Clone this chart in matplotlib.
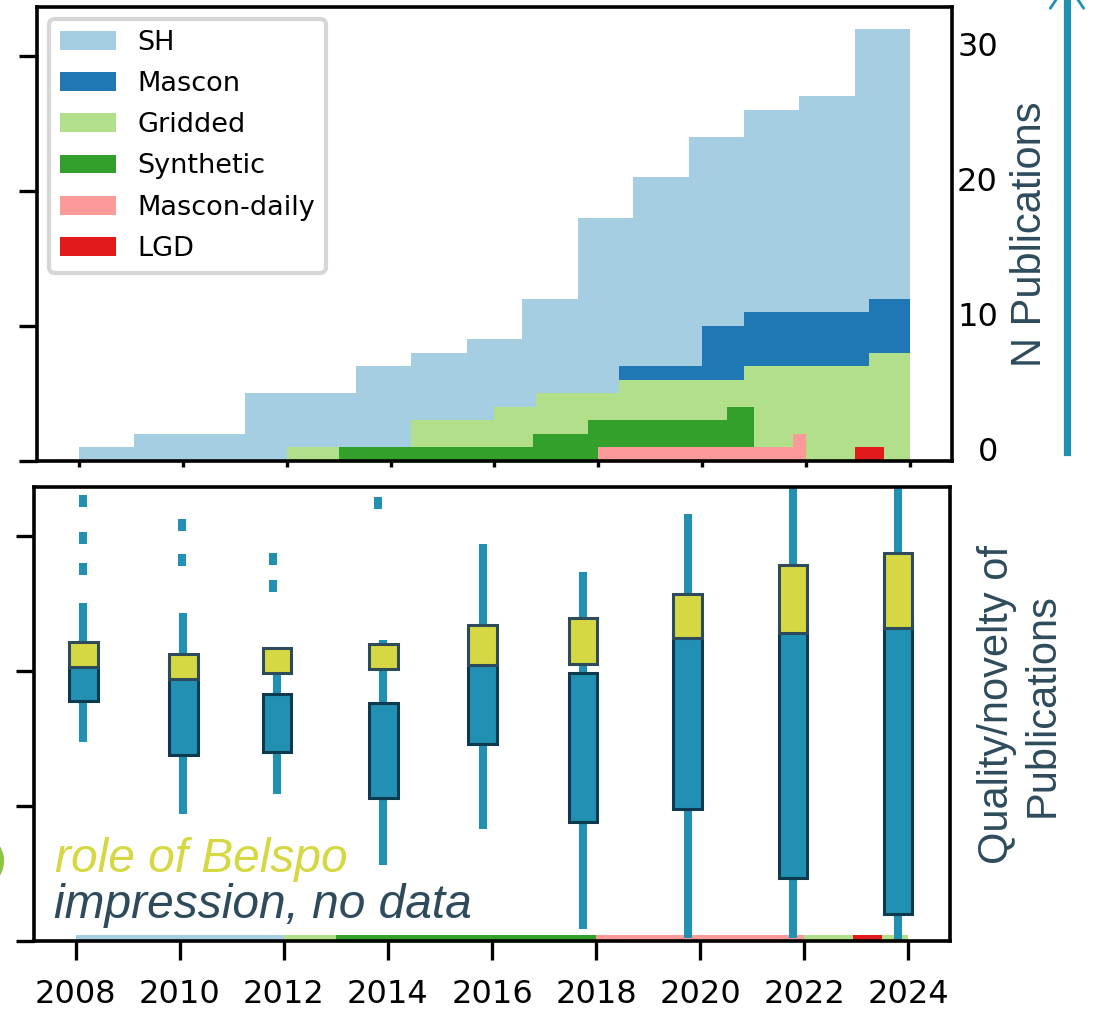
import numpy as np
import matplotlib.pyplot as plt
from matplotlib.patches import Circle, FancyArrowPatch
from matplotlib.lines import Line2D

# histogram counts, 15 equal bins between the first and last year of each category
categories = ["SH", "Mascon", "Gridded", "Synthetic", "Mascon-daily", "LGD"]
colors = ["#a6cee3", "#1f78b4", "#b2df8a", "#33a02c", "#fb9a99", "#e31a1c"]
year_ranges = [(2008, 2024), (2012, 2024), (2012, 2024), (2013, 2021), (2018, 2022), (2022.93, 2023.5)]
sh_counts = [1, 2, 2, 5, 5, 7, 8, 9, 12, 18, 21, 24, 26, 27, 32]
mascon_counts = [0, 0, 0, 0, 0, 0, 0, 0, 7, 7, 10, 11, 11, 11, 12]
gridded_counts = [1, 1, 1, 3, 3, 4, 5, 5, 6, 6, 6, 7, 7, 7, 8]
synthetic_counts = [1, 1, 1, 1, 1, 1, 1, 2, 2, 3, 3, 3, 3, 3, 4]
daily_counts = [1, 1, 1, 1, 1, 1, 1, 1, 1, 1, 1, 1, 1, 1, 2]
lgd_counts = [1, 1, 1, 1]
all_counts = [sh_counts, mascon_counts, gridded_counts, synthetic_counts, daily_counts, lgd_counts]

# "impression" boxes (quality / novelty)
box_x = [2008.15, 2010.07, 2011.87, 2013.91, 2015.82, 2017.75, 2019.76, 2021.78, 2023.8]
whisk_lo = [14.7, 9.4, 10.9, 5.6, 8.3, 0.9, 0.25, 0.25, 0.0]
teal_lo = [17.8, 13.8, 14.0, 10.6, 14.6, 8.8, 9.75, 4.7, 2.0]
teal_hi = [20.25, 20.1, 18.3, 17.6, 20.45, 19.8, 22.6, 23.2, 23.75]
whisk_hi = [25.05, 24.25, 21.0, 22.3, 29.35, 27.3, 31.6, 34.0, 34.0]
belspo_lo = [20.25, 19.4, 19.8, 20.1, 20.45, 20.5, 22.4, 22.8, 23.2]
belspo_hi = [22.1, 21.25, 21.7, 22.0, 23.4, 23.9, 25.7, 27.8, 28.7]
flier_x = [2008.15, 2008.15, 2008.15, 2010.04, 2010.04, 2011.8, 2011.8, 2013.8]
flier_y = [32.6, 29.8, 27.5, 30.8, 28.2, 28.3, 26.3, 32.4]

years = [2008, 2010, 2012, 2014, 2016, 2018, 2020, 2022, 2024]
yticks = [0, 10, 20, 30]

teal = "#2190b2"
dark = "#0d3a4e"
yellow = "#d5d843"
slate = "#2e4b5c"
arial = ["Liberation Sans", "DejaVu Sans"]

fig = plt.figure(figsize=(10.94, 10.10), dpi=100)
ax1 = fig.add_axes([0.0338, 0.5436, 0.8364, 0.4495])
ax2 = fig.add_axes([0.0311, 0.0683, 0.8373, 0.4495])


def draw_hist(ax, cap=None, labels=True):
    for name, col, (a, b), cnt in zip(categories, colors, year_ranges, all_counts):
        edges = np.linspace(a, b, len(cnt) + 1)
        h = np.array(cnt, dtype=float)
        if cap is not None:
            h = np.minimum(h, cap)
        ax.bar(edges[:-1], h, width=np.diff(edges), align="edge", color=col,
               linewidth=0, label=name if labels else None, zorder=1)


draw_hist(ax1)
draw_hist(ax2, cap=0.45, labels=False)

for ax in (ax1, ax2):
    ax.set_xlim(2007.2, 2024.8)
    ax.set_ylim(0, 33.6)
    ax.set_xticks(years)
    ax.set_yticks(yticks)
    for s in ax.spines.values():
        s.set_linewidth(2.6)
    ax.tick_params(axis="y", left=True, right=False, length=13, width=2.4)

# top panel
ax1.tick_params(axis="x", labelbottom=False, length=4.5, width=2.4)
ax1.tick_params(axis="y", labelleft=False, labelright=True, labelsize=23, pad=20)
for lab in ax1.get_yticklabels():
    lab.set_ha("right")
    lab.set_va("baseline")
leg = ax1.legend(loc="upper left", fontsize=19.5, labelspacing=0.56, handlelength=2.05,
                 borderaxespad=0.45, fancybox=True)
leg.get_frame().set_linewidth(3)
leg.get_frame().set_edgecolor("#cccccc")

# bottom panel
ax2.tick_params(axis="y", labelleft=False)
ax2.tick_params(axis="x", length=14, width=2.4, labelsize=23, pad=13.5)
ax2.vlines(box_x, whisk_lo, teal_lo, color=teal, lw=5.8, zorder=2)
ax2.vlines(box_x, teal_hi, whisk_hi, color=teal, lw=5.8, zorder=2)
rect = [(-4, -5.5), (4, -5.5), (4, 5.5), (-4, 5.5)]
ax2.plot(flier_x, flier_y, ls="none", marker=rect, ms=8, color=teal, mew=0, zorder=2)
ax2.bar(box_x, np.subtract(teal_hi, teal_lo), bottom=teal_lo, width=0.55, color=teal,
        edgecolor=dark, linewidth=2.2, zorder=3)
ax2.bar(box_x, np.subtract(belspo_hi, belspo_lo), bottom=belspo_lo, width=0.55, color=yellow,
        edgecolor=slate, linewidth=2.2, zorder=4)
ax2.text(0.023, 0.152, "role of Belspo", transform=ax2.transAxes, family=arial,
         style="italic", size=34.5, color=yellow, va="baseline", zorder=5)
ax2.text(0.022, 0.05, "impression, no data", transform=ax2.transAxes, family=arial,
         style="italic", size=34.5, color=slate, va="baseline", zorder=5)

# right-hand labels
fig.text(1030 / 1094, 1 - 234 / 1010, "N Publications", rotation=90, ha="center",
         va="center", family=arial, size=30, color=slate)
fig.text(1020 / 1094, 1 - 705 / 1010, "Quality/novelty of\nPublications", rotation=90,
         ha="center", va="center", multialignment="center", family=arial, size=30,
         color=slate)

# decorations cut off at the edges of the slide
fig.add_artist(Line2D([1067 / 1094, 1067 / 1094], [1 - 452 / 1010, 1.0],
                      transform=fig.transFigure, color=teal, lw=5.2))
fig.add_artist(FancyArrowPatch((1067, 1010 - 30), (1067, 1010 + 22), transform=None,
                               arrowstyle="->,head_length=18,head_width=12",
                               mutation_scale=1, color=teal, lw=2))
fig.add_artist(Circle((-24, 1010 - 861), 26, transform=None, fill=False,
                      edgecolor="#8dc641", lw=3))

fig.savefig("out.png", dpi=100)
